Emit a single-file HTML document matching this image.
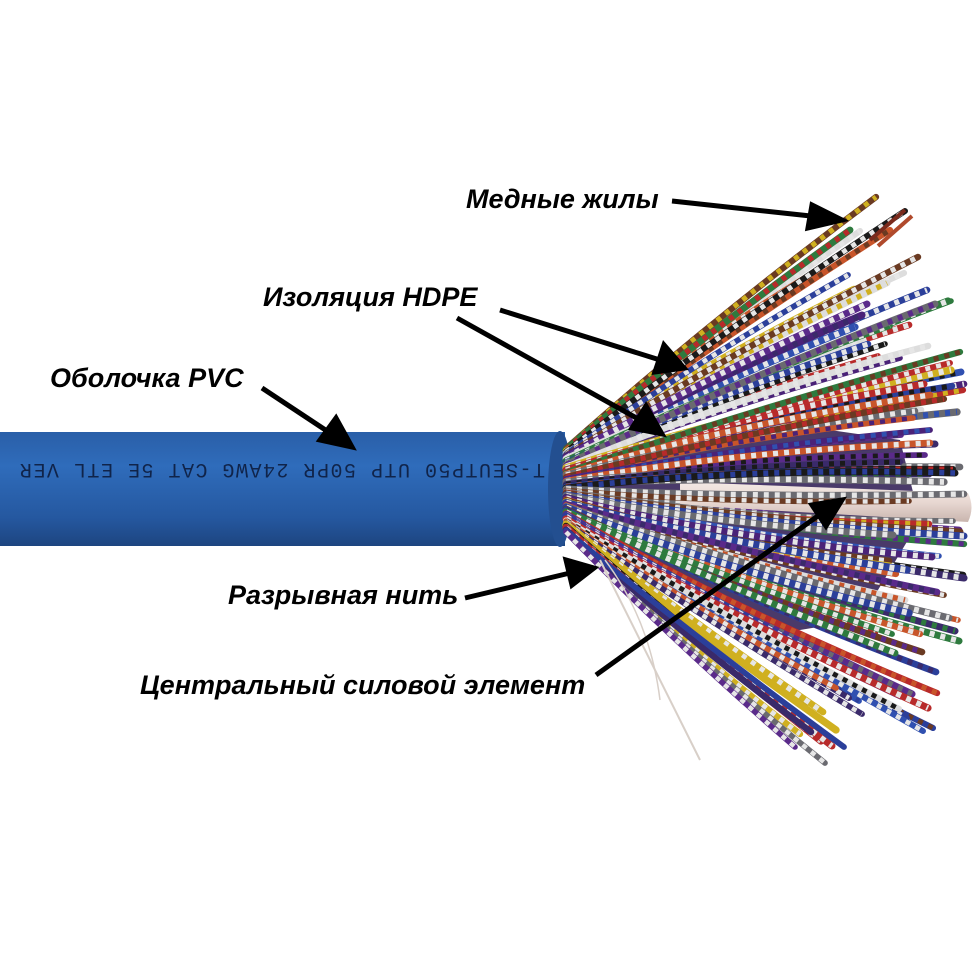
<!DOCTYPE html>
<html><head><meta charset="utf-8">
<style>
html,body{margin:0;padding:0;background:#fff;}
svg{display:block}
.lbl{font-family:"Liberation Sans",sans-serif;font-weight:bold;font-style:italic;font-size:27px;fill:#000}
</style></head>
<body>
<svg id="s" width="974" height="974" viewBox="0 0 974 974" xmlns="http://www.w3.org/2000/svg">
<defs>
<linearGradient id="cab" x1="0" y1="0" x2="0" y2="1">
<stop offset="0" stop-color="#2a5fa8"/>
<stop offset="0.3" stop-color="#2f6cbb"/>
<stop offset="0.75" stop-color="#2558a0"/>
<stop offset="1" stop-color="#1d4580"/>
</linearGradient>
<linearGradient id="cen" x1="0" y1="0" x2="0" y2="1">
<stop offset="0" stop-color="#f3e9e4"/>
<stop offset="0.5" stop-color="#e8d8d2"/>
<stop offset="1" stop-color="#c9b5ae"/>
</linearGradient>
</defs>
<g id="wiresBack"></g>
<rect x="0" y="432" width="565" height="114" fill="url(#cab)"/>
<ellipse cx="560" cy="489" rx="12" ry="58" fill="#234f90"/>
<text x="0" y="0" transform="translate(545,464) rotate(180)" font-family="Liberation Mono,monospace" font-size="20" fill="#10244a" letter-spacing="1.5">T-SEUTP50 UTP 50PR 24AWG CAT 5E ETL VER</text>
<path d="M680,482 L968,493 Q975,507 968,522 L680,505 Z" fill="url(#cen)"/>
<g id="wiresFront"></g>
<path d="M600,560 Q640,640 700,760" stroke="#d8cfc8" stroke-width="2" fill="none"/>
<path d="M605,560 Q650,620 660,700" stroke="#d8cfc8" stroke-width="1.5" fill="none"/>
<line x1="870" y1="240" x2="905" y2="210" stroke="#7a2a1c" stroke-width="4"/>
<line x1="878" y1="246" x2="912" y2="216" stroke="#b04a2c" stroke-width="4"/>

<g stroke="#000" stroke-width="5" fill="#000">
<line x1="672" y1="201" x2="820" y2="217"/><polygon points="842,220 812,205 808,228"/>
<line x1="500" y1="310" x2="660" y2="360"/><polygon points="684,368 664,345 655,372"/>
<line x1="457" y1="318" x2="640" y2="420"/><polygon points="662,434 646,406 632,428"/>
<line x1="262" y1="388" x2="330" y2="433"/><polygon points="352,447 336,418 320,440"/>
<line x1="465" y1="598" x2="570" y2="573"/><polygon points="594,568 566,560 572,585"/>
<line x1="596" y1="675" x2="822" y2="513"/><polygon points="842,500 812,505 826,526"/>
</g>
<text class="lbl" x="466" y="208">Медные жилы</text>
<text class="lbl" x="263" y="306">Изоляция HDPE</text>
<text class="lbl" x="50" y="387">Оболочка PVC</text>
<text class="lbl" x="228" y="604">Разрывная нить</text>
<text class="lbl" x="140" y="694">Центральный силовой элемент</text>
</svg>
<script>
(function(){
var ns="http://www.w3.org/2000/svg";
var cols=["#2b3f9a","#c8552a","#2e7a3e","#6a3a22","#6a6a70","#ddd","#b82a2a","#1a1a1a","#d0b020","#5a2a8a","#3050b0","#4a2278","#3a2a6a"];
var seed=7;function r(){seed=(seed*9301+49297)%233280;return seed/233280;}
var back=document.getElementById("wiresBack"),front=document.getElementById("wiresFront");
function wire(g,x0,y0,x1,y1,cx,cy,w){
 var a=cols[Math.floor(r()*cols.length)],b=r()<0.55?"#e6e6e6":cols[Math.floor(r()*cols.length)];
 var d="M"+x0+","+y0+" Q"+cx+","+cy+" "+x1+","+y1;
 var p=document.createElementNS(ns,"path");p.setAttribute("d",d);p.setAttribute("stroke",a);p.setAttribute("stroke-width",w);p.setAttribute("fill","none");p.setAttribute("stroke-linecap","round");g.appendChild(p);
 var q=document.createElementNS(ns,"path");q.setAttribute("d",d);q.setAttribute("stroke",b);q.setAttribute("stroke-width",w*0.8);q.setAttribute("fill","none");q.setAttribute("stroke-dasharray","5 6");g.appendChild(q);
}
var core=document.createElementNS(ns,"path");
core.setAttribute("d","M565,450 L760,420 L900,440 L920,520 L860,620 L740,640 L565,530 Z");
core.setAttribute("fill","#4a3a6a");back.appendChild(core);
var n=110;
for(var i=0;i<n;i++){
 var t=i/(n-1);
 var ang=-0.72+t*1.55+(r()-0.5)*0.12;
 var L=330+r()*110;
 if(ang>0.6)L=310+r()*70;
 var x0=566,y0=448+t*84;
 var x1=x0+Math.cos(ang)*L,y1=490+Math.sin(ang)*L;
 if(x1>970)x1=965-r()*10;
 var bend=(ang<0?-1:1)*(6+r()*10);
 var cx=x0+(x1-x0)*0.45,cy=y0+(y1-y0)*0.45+bend;
 wire(i%3==0?back:front,x0,y0,Math.round(x1),Math.round(y1),Math.round(cx),Math.round(cy),5.5+r()*2);
}
})();
</script>
</body></html>
